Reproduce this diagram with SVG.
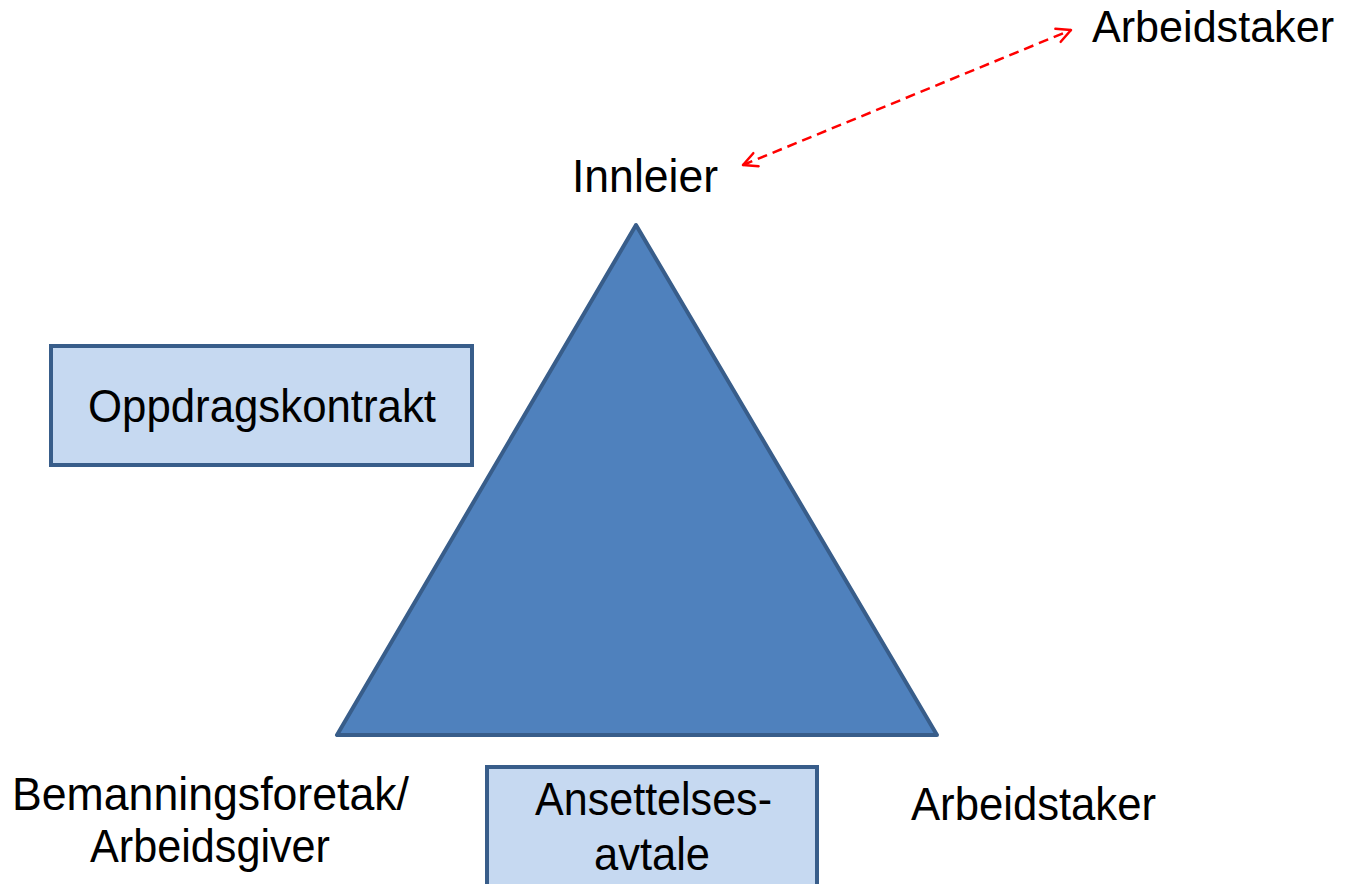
<svg xmlns="http://www.w3.org/2000/svg" width="1346" height="884" viewBox="0 0 1346 884">
<defs>
<style>
.lbl{font-family:"Liberation Sans",Arial,sans-serif;font-size:46px;fill:#000;}
.box{fill:#C6D9F1;stroke:#385D8A;stroke-width:4;}
.tri{fill:#4F81BD;stroke:#385D8A;stroke-width:4;stroke-linejoin:round;}
.conn{fill:none;stroke:#FF0000;stroke-width:2.5;stroke-dasharray:10 6;}
</style>
<marker id="arr" viewBox="0 0 18 18" refX="16" refY="9" markerWidth="18" markerHeight="18" markerUnits="userSpaceOnUse" orient="auto-start-reverse">
<path d="M2,2 L16,9 L2,16" fill="none" stroke="#FF0000" stroke-width="2.5" stroke-linecap="round" stroke-linejoin="round"/>
</marker>
</defs>
<rect width="1346" height="884" fill="#FFFFFF"/>
<g id="triangle">
<polygon class="tri" points="636,225 337,735 937,735"/>
</g>
<g id="innleier">
<text class="lbl" x="572" y="192" textLength="146" lengthAdjust="spacingAndGlyphs">Innleier</text>
</g>
<g id="arbeidstaker-top">
<text class="lbl" x="1092" y="42" style="font-size:44px" textLength="242" lengthAdjust="spacingAndGlyphs">Arbeidstaker</text>
</g>
<g id="oppdragskontrakt">
<rect class="box" x="51" y="346" width="421" height="119"/>
<text class="lbl" x="88" y="422" textLength="348" lengthAdjust="spacingAndGlyphs">Oppdragskontrakt</text>
</g>
<g id="bemanningsforetak">
<text class="lbl" x="12" y="810" textLength="397" lengthAdjust="spacingAndGlyphs">Bemanningsforetak/</text>
<text class="lbl" x="90" y="862" textLength="240" lengthAdjust="spacingAndGlyphs">Arbeidsgiver</text>
</g>
<g id="ansettelsesavtale">
<rect class="box" x="487" y="767" width="330" height="130"/>
<text class="lbl" x="535" y="815" textLength="237" lengthAdjust="spacingAndGlyphs">Ansettelses-</text>
<text class="lbl" x="594" y="870" textLength="116" lengthAdjust="spacingAndGlyphs">avtale</text>
</g>
<g id="arbeidstaker-bottom">
<text class="lbl" x="911" y="820" textLength="245" lengthAdjust="spacingAndGlyphs">Arbeidstaker</text>
</g>
<g id="connectors">
<line class="conn" x1="743" y1="165" x2="1071" y2="30" marker-start="url(#arr)" marker-end="url(#arr)"/>
</g>
</svg>
